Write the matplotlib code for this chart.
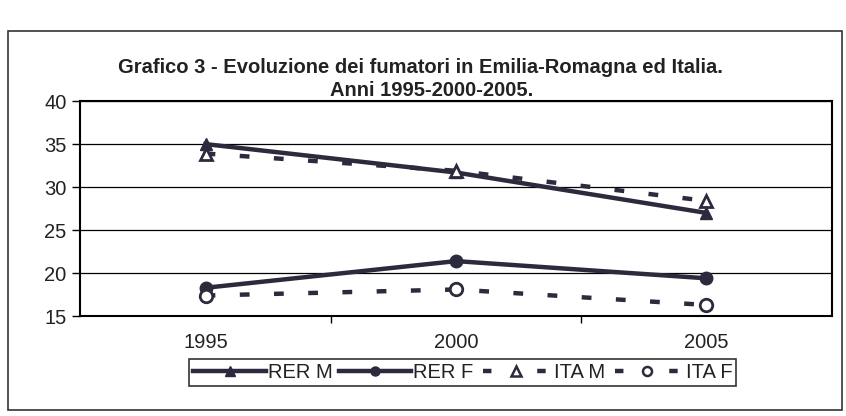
import matplotlib
matplotlib.use("Agg")
import matplotlib.pyplot as plt
from matplotlib.patches import Rectangle
from matplotlib.lines import Line2D

years = ["1995", "2000", "2005"]
rer_m = [35.0, 31.7, 27.0]
rer_f = [18.3, 21.4, 19.4]
ita_m = [33.9, 31.9, 28.4]
ita_f = [17.4, 18.1, 16.3]
yticks = [15, 20, 25, 30, 35, 40]
labels = ["RER M", "RER F", "ITA M", "ITA F"]

plt.rcParams['font.family'] = ['Liberation Sans', 'DejaVu Sans']
col = '#2b2b3d'
lw = 3.2
dash = (0, (2.2, 5.5))

fig = plt.figure(figsize=(8.46, 4.16), dpi=100)
ax = fig.add_axes([0.095, 0.240, 0.888, 0.517])

x = list(range(len(years)))
ax.plot(x, rer_m, color=col, lw=lw, marker='^', ms=9, mfc=col, mec=col, zorder=3)
ax.plot(x, rer_f, color=col, lw=lw, marker='o', ms=9, mfc=col, mec=col, zorder=3)
ax.plot(x, ita_m, color=col, lw=lw, ls=dash, marker='^', ms=9, mfc='white', mec=col, mew=2, zorder=4)
ax.plot(x, ita_f, color=col, lw=lw, ls=dash, marker='o', ms=9, mfc='white', mec=col, mew=2, zorder=4)

ax.set_xlim(-0.5, 2.5)
ax.set_ylim(15, 40)
ax.set_yticks(yticks)
ax.set_yticklabels([str(v) for v in yticks], fontsize=14.5, color='#222222')
ax.set_xticks(x)
ax.set_xticklabels(years, fontsize=14.5, color='#222222')
ax.set_xticks([0.5, 1.5], minor=True)
ax.tick_params(axis='x', which='major', length=0, pad=12)
ax.tick_params(axis='x', which='minor', length=5, width=1, direction='out')
ax.tick_params(axis='y', length=6, width=1, direction='out', pad=4)
ax.yaxis.grid(True, color='black', lw=0.9)
ax.set_axisbelow(True)
for s in ax.spines.values():
    s.set_linewidth(1.5)
    s.set_color('black')

fig.text(0.497, 0.838, "Grafico 3 - Evoluzione dei fumatori in Emilia-Romagna ed Italia.",
         ha='center', va='center', fontsize=14.5, fontweight='bold', color='#222222')
fig.text(0.510, 0.782, "Anni 1995-2000-2005.", ha='center', va='center', fontsize=14.5,
         fontweight='bold', color='#222222')

# legend handles (dashed ones: dash - marker - dash, as in the original)
leg_dash = (11.3, (1.9, 10.3))
handles = [
    Line2D([], [], color=col, lw=lw, marker='^', ms=6.5, mfc=col, mec=col),
    Line2D([], [], color=col, lw=lw, marker='o', ms=6.5, mfc=col, mec=col),
    Line2D([], [], color=col, lw=lw, ls=leg_dash, marker='^', ms=6.5, mfc='white', mec=col, mew=1.8),
    Line2D([], [], color=col, lw=lw, ls=leg_dash, marker='o', ms=6.5, mfc='white', mec=col, mew=1.8),
]
leg = ax.legend(handles, labels, loc='center', bbox_to_anchor=(0.509, -0.26), ncol=4, frameon=True,
                fontsize=14.5, handlelength=3.6, handletextpad=0.1, columnspacing=0.3, borderpad=0.2,
                fancybox=False, edgecolor='black')
leg.get_frame().set_linewidth(1.2)
for t in leg.get_texts():
    t.set_color('#222222')

fig.patches.append(Rectangle((0.01, 0.015), 0.985, 0.91, transform=fig.transFigure,
                             fill=False, edgecolor='#333333', lw=1.2))

fig.savefig("out.png", dpi=100)
